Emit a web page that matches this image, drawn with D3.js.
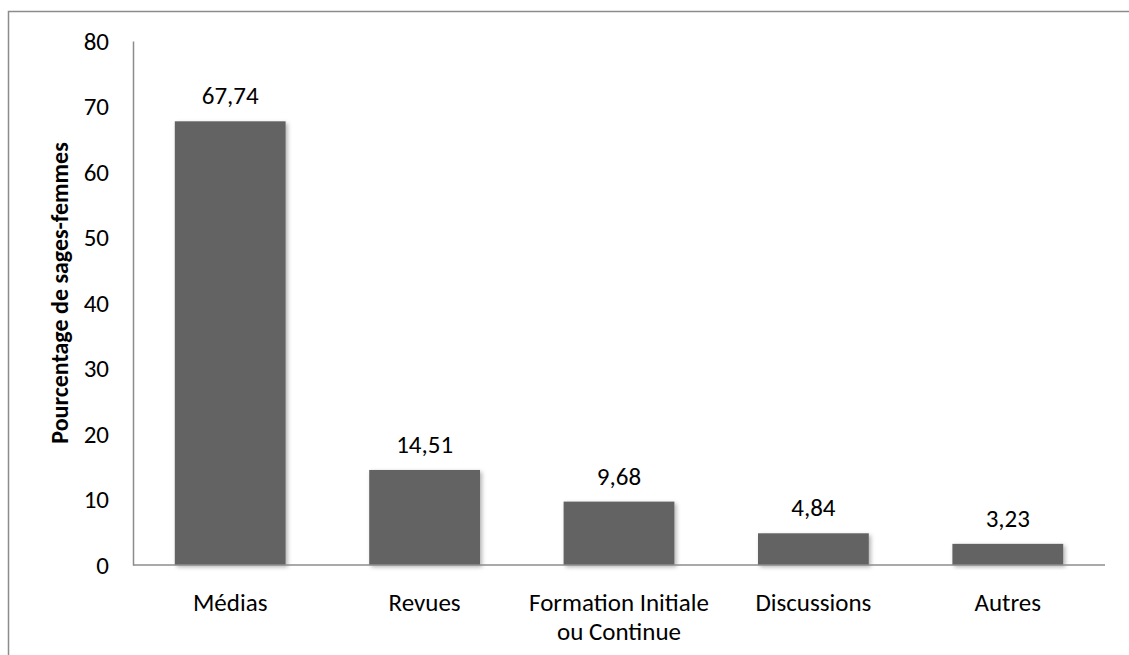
<!DOCTYPE html>
<html>
<head>
<meta charset="utf-8">
<script src="https://cdn.jsdelivr.net/npm/d3@7"></script>
<style>
  body { margin: 0; background: #fff; }
  svg { font-family: Calibri, Carlito, Lato, "Open Sans", sans-serif; }
</style>
</head>
<body>
<div id="chart"></div>
<script>
const categories = [['Médias'], ['Revues'], ['Formation Initiale', 'ou Continue'], ['Discussions'], ['Autres']];
const values = [67.74, 14.51, 9.68, 4.84, 3.23];
const valueLabels = ['67,74', '14,51', '9,68', '4,84', '3,23'];
const yTicks = [0, 10, 20, 30, 40, 50, 60, 70, 80];

const width = 1129;
const height = 655;
const margin = { top: 41, right: 24, bottom: 90, left: 133 };
const fontSize = 25;

const data = values.map((v, i) => ({ key: i, lines: categories[i], value: v, label: valueLabels[i] }));

const svg = d3.select('#chart')
    .append('svg')
    .attr('width', width)
    .attr('height', height);

// shadow under bars
const defs = svg.append('defs');
const f = defs.append('filter').attr('id', 'shadow')
    .attr('x', '-10%').attr('y', '-10%').attr('width', '130%').attr('height', '130%');
f.append('feDropShadow')
    .attr('dx', 2).attr('dy', 2).attr('stdDeviation', 2)
    .attr('flood-color', '#000').attr('flood-opacity', 0.3);

// outer frame (top and left only visible)
svg.append('path')
    .attr('d', `M8.5,${height} V11.5 H${width}`)
    .attr('fill', 'none')
    .attr('stroke', '#8c8c8c')
    .attr('stroke-width', 1.5);

const xScale = d3.scaleBand()
    .domain(data.map(d => d.key))
    .range([margin.left, width - margin.right])
    .paddingInner(0.43)
    .paddingOuter(0.215);

const yScale = d3.scaleLinear()
    .domain([0, 80])
    .range([height - margin.bottom, margin.top]);

svg.selectAll('rect.bar')
    .data(data)
    .enter()
    .append('rect')
    .attr('class', 'bar')
    .attr('x', d => xScale(d.key))
    .attr('y', d => yScale(d.value))
    .attr('width', xScale.bandwidth())
    .attr('height', d => yScale(0) - yScale(d.value))
    .attr('fill', '#636363')
    .attr('filter', 'url(#shadow)');

svg.selectAll('text.val')
    .data(data)
    .enter()
    .append('text')
    .attr('class', 'val')
    .attr('x', d => xScale(d.key) + xScale.bandwidth() / 2)
    .attr('y', d => yScale(d.value) - 17)
    .attr('text-anchor', 'middle')
    .attr('font-size', fontSize)
    .attr('fill', '#000')
    .text(d => d.label);

const yAxis = svg.append('g')
    .attr('class', 'y-axis')
    .attr('transform', `translate(${margin.left}, 0)`)
    .call(d3.axisLeft(yScale).tickValues(yTicks).tickSize(0).tickPadding(24));
yAxis.select('.domain').attr('stroke', '#8c8c8c').attr('stroke-width', 1.5);
yAxis.selectAll('text').attr('font-size', fontSize).attr('fill', '#000')
    .attr('font-family', 'Calibri, Carlito, Lato, "Open Sans", sans-serif');

const xAxis = svg.append('g')
    .attr('class', 'x-axis')
    .attr('transform', `translate(0, ${height - margin.bottom})`)
    .call(d3.axisBottom(xScale).tickSize(0).tickFormat(''));
xAxis.select('.domain').attr('stroke', '#8c8c8c').attr('stroke-width', 1.5)
    .attr('d', `M${margin.left},0H${width - margin.right}`);

const xl = svg.selectAll('text.cat')
    .data(data)
    .enter()
    .append('text')
    .attr('class', 'cat')
    .attr('x', d => xScale(d.key) + xScale.bandwidth() / 2)
    .attr('y', height - margin.bottom + 46)
    .attr('text-anchor', 'middle')
    .attr('font-size', fontSize)
    .attr('fill', '#000');
xl.selectAll('tspan')
    .data(d => d.lines.map(l => ({ l, x: xScale(d.key) + xScale.bandwidth() / 2 })))
    .enter()
    .append('tspan')
    .attr('x', d => d.x)
    .attr('dy', (d, i) => i === 0 ? 0 : 29)
    .text(d => d.l);

svg.append('text')
    .attr('transform', 'translate(68, 293) rotate(-90)')
    .attr('text-anchor', 'middle')
    .attr('font-size', 24)
    .attr('font-weight', 'bold')
    .attr('fill', '#000')
    .text('Pourcentage de sages-femmes');
</script>
</body>
</html>
